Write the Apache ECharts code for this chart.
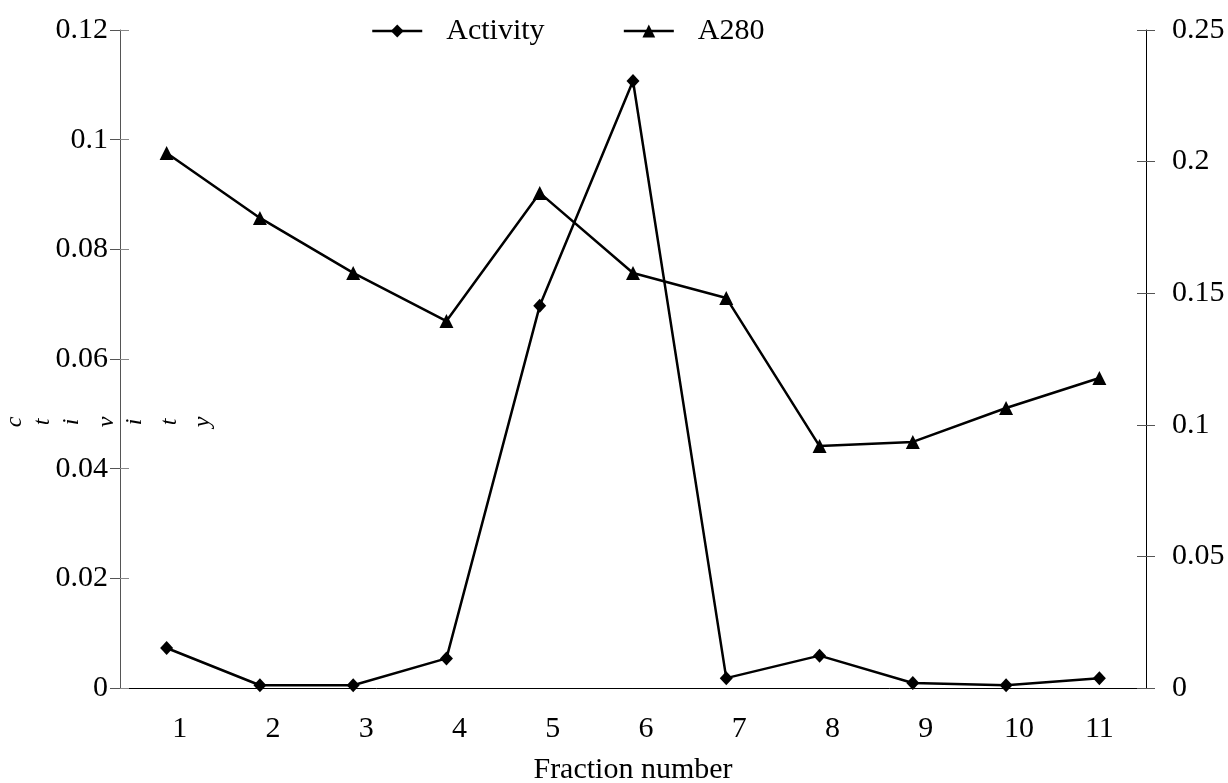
<!DOCTYPE html>
<html>
<head>
<meta charset="utf-8">
<script src="https://cdn.jsdelivr.net/npm/echarts@6/dist/echarts.min.js"></script>
<style>
html, body { margin: 0; padding: 0; background: #fff; }
#main { width: 1228px; height: 783px; }
</style>
</head>
<body>
<div id="main"></div>
<script>
// fraction numbers on the x axis
var fractions = ['1', '2', '3', '4', '5', '6', '7', '8', '9', '10', '11'];
// enzyme activity (left axis)
var activity = [0.0073, 0.0005, 0.0005, 0.0054, 0.0697, 0.1107, 0.0018, 0.0059, 0.0009, 0.0005, 0.0018];
// absorbance at 280 nm (right axis)
var a280 = [0.2033, 0.1786, 0.1577, 0.1394, 0.1881, 0.1577, 0.1482, 0.0919, 0.0935, 0.1064, 0.1178];
// broken vertical axis title, one letter each
var titleLetters = ['c', 't', 'i', 'v', 'i', 't', 'y'];

var font = 'Liberation Serif';
var letterX = [15, 43, 72, 107, 135, 170, 203];

var xData = fractions.map(function (f, i) {
    // labels sit a little right of the points, except the last one
    if (i === fractions.length - 1) {
        return { value: f, textStyle: { padding: [0, 0, 0, 0] } };
    }
    return f;
});

var letters = titleLetters.map(function (ch, i) {
    return {
        type: 'text',
        x: letterX[i],
        y: 422,
        rotation: Math.PI / 2,
        style: {
            text: ch,
            font: 'italic 24px "Liberation Serif"',
            fill: '#000',
            align: 'center',
            verticalAlign: 'middle'
        }
    };
});

option = {
    backgroundColor: '#fff',
    animation: false,
    textStyle: { fontFamily: font, color: '#000' },
    grid: {
        left: 120,
        right: 82,
        top: 30,
        bottom: 95,
        outerBoundsMode: 'none'
    },
    legend: {
        left: 366,
        top: 11,
        itemWidth: 50,
        itemHeight: 16,
        itemGap: 78,
        lineStyle: { width: 2.5 },
        textStyle: {
            fontFamily: font,
            fontSize: 30,
            color: '#000',
            padding: [0, 0, 0, 19]
        },
        data: ['Activity', 'A280']
    },
    xAxis: {
        type: 'category',
        data: xData,
        name: 'Fraction number',
        nameLocation: 'middle',
        nameGap: 67,
        nameTextStyle: { fontFamily: font, fontSize: 30, color: '#000' },
        axisLine: { lineStyle: { color: '#000', width: 1 } },
        axisTick: {
            inside: true,
            length: 10,
            interval: 0,
            lineStyle: { color: '#666' }
        },
        axisLabel: {
            fontFamily: font,
            fontSize: 30,
            color: '#000',
            margin: 26,
            interval: 0,
            padding: [0, 0, 0, 26]
        },
        splitLine: { show: false }
    },
    yAxis: [
        {
            type: 'value',
            position: 'left',
            min: 0,
            max: 0.12,
            interval: 0.02,
            axisLine: { show: true, lineStyle: { color: '#555', width: 1 } },
            axisTick: { show: true, length: 10, lineStyle: { color: '#555' } },
            axisLabel: { fontFamily: font, fontSize: 30, color: '#000', margin: 12 },
            splitLine: { show: false }
        },
        {
            type: 'value',
            position: 'right',
            min: 0,
            max: 0.25,
            interval: 0.05,
            axisLine: { show: true, lineStyle: { color: '#000', width: 1 } },
            axisTick: { show: true, length: 9, lineStyle: { color: '#555' } },
            axisLabel: { fontFamily: font, fontSize: 30, color: '#000', margin: 26 },
            splitLine: { show: false }
        },
        {
            // inner half of the crossing ticks, left
            type: 'value',
            position: 'left',
            min: 0,
            max: 0.12,
            interval: 0.02,
            axisLine: { show: false },
            axisTick: { show: true, inside: true, length: 9, lineStyle: { color: '#888' } },
            axisLabel: { show: false },
            splitLine: { show: false }
        },
        {
            // inner half of the crossing ticks, right
            type: 'value',
            position: 'right',
            min: 0,
            max: 0.25,
            interval: 0.05,
            axisLine: { show: false },
            axisTick: { show: true, inside: true, length: 9, lineStyle: { color: '#555' } },
            axisLabel: { show: false },
            splitLine: { show: false }
        }
    ],
    graphic: letters,
    series: [
        {
            name: 'Activity',
            type: 'line',
            yAxisIndex: 0,
            data: activity,
            symbol: 'diamond',
            symbolSize: [13, 14],
            showAllSymbol: true,
            lineStyle: { color: '#000', width: 2.5 },
            itemStyle: { color: '#000' }
        },
        {
            name: 'A280',
            type: 'line',
            yAxisIndex: 1,
            data: a280,
            symbol: 'triangle',
            symbolSize: 14,
            showAllSymbol: true,
            lineStyle: { color: '#000', width: 2.5 },
            itemStyle: { color: '#000' }
        }
    ]
};
echarts.init(document.getElementById('main')).setOption(option);
</script>
</body>
</html>
